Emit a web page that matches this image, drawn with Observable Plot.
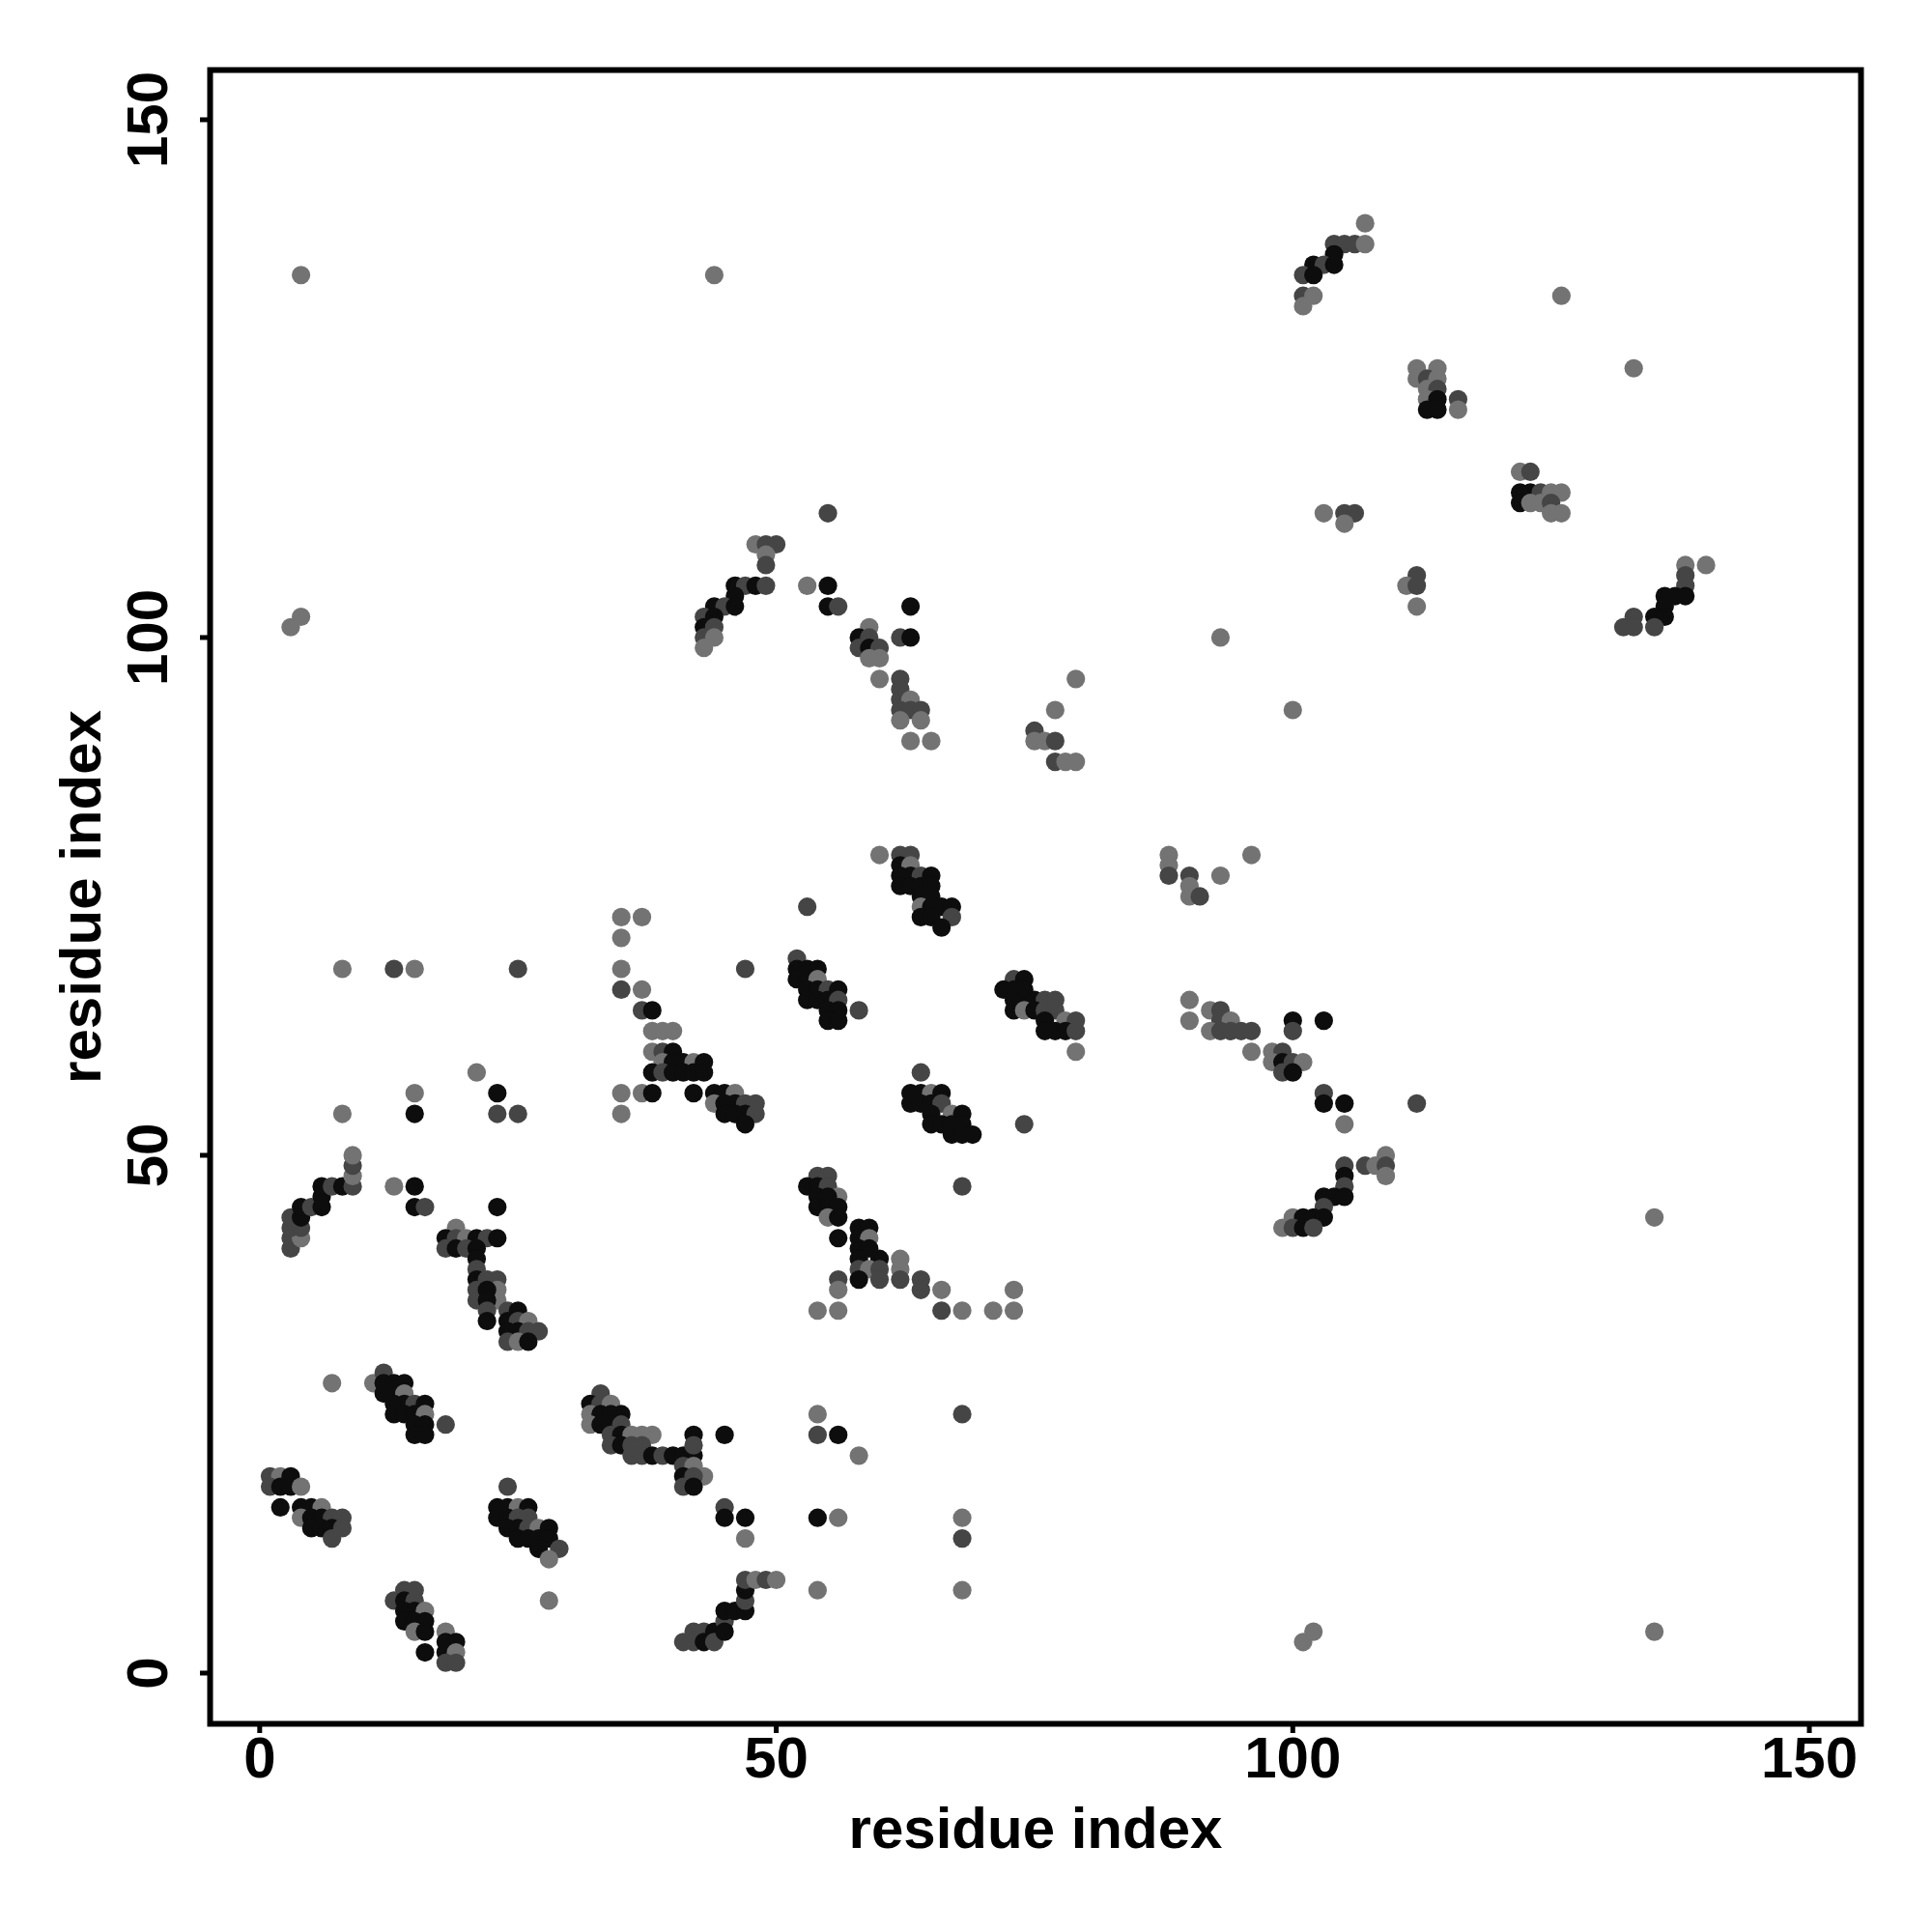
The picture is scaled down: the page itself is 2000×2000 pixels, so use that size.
<!DOCTYPE html>
<html>
<head>
<meta charset="utf-8">
<script src="https://cdn.jsdelivr.net/npm/d3@7"></script>
<script src="https://cdn.jsdelivr.net/npm/@observablehq/plot@0.6"></script>
<style>
  html, body { margin: 0; padding: 0; background: #fff; }
  #chart svg { display: block; }
</style>
</head>
<body>
<div id="chart"></div>
<script>
// Contacts: [residue i (x), residue j (y), shade level 1=black 2=dark grey 3=grey]
const clusterA = [ // x 1-8, y 13-19
  [1,19,2],[2,19,3],[3,19,1],[1,18,2],[2,18,1],[3,18,1],[4,18,3],[2,16,1],[4,16,1],[5,16,1],[6,16,3],
  [4,15,3],[5,15,1],[6,15,1],[7,15,2],[8,15,2],[5,14,1],[6,14,1],[7,14,1],[8,14,2],[7,13,2]
];
const clusterB = [ // x 11-18, y 23-29
  [7,28,3],[11,28,3],[12,29,2],[12,28,1],[13,28,1],[14,28,1],[12,27,1],[13,27,1],[14,27,3],[13,26,1],[14,26,1],
  [15,26,2],[16,26,1],[13,25,1],[14,25,1],[15,25,1],[16,25,3],[15,24,1],[16,24,1],[15,23,1],[16,23,1],[18,24,2]
];
const clusterC = [ // x 13-19, y 1-8
  [13,7,2],[14,8,2],[15,8,2],[14,7,1],[15,7,2],[14,6,1],[15,6,1],[16,6,3],[14,5,1],[15,5,1],[16,5,1],
  [15,4,3],[16,4,1],[16,2,1],[18,4,3],[18,3,1],[19,3,1],[18,2,1],[19,2,3],[18,1,2],[19,1,2]
];
const clusterD = [ // x 23-29, y 11-18
  [24,18,2],[23,16,1],[24,16,1],[25,16,3],[26,16,1],[23,15,1],[24,15,1],[25,15,2],[26,15,2],[24,14,1],[25,14,1],
  [26,14,2],[27,14,3],[28,14,1],[25,13,1],[26,13,1],[27,13,1],[28,13,1],[27,12,1],[29,12,2],[28,11,3],[28,7,3]
];
const clusterE = [ // x 32-45, y 18-27
  [33,27,2],[32,26,1],[33,26,2],[34,26,3],[32,25,3],[33,25,1],[34,25,1],[35,25,1],[32,24,3],[33,24,1],[34,24,1],
  [35,24,2],[34,23,2],[35,23,1],[36,23,3],[37,23,3],[38,23,3],[34,22,2],[35,22,1],[36,22,2],[37,22,2],[36,21,2],
  [37,21,2],[38,21,1],[39,21,2],[40,21,1],[41,21,1],[42,21,1],[42,23,1],[42,22,2],[45,23,1],[41,20,2],[42,20,3],
  [43,19,3],[41,19,1],[42,19,2],[41,18,2],[42,18,1]
];
const clusterF = [ // x 41-50, y 3-9
  [41,3,2],[42,4,2],[42,3,2],[43,4,2],[43,3,1],[44,4,1],[44,3,2],[45,5,2],[45,4,1],[45,6,1],[46,6,1],[47,6,1],
  [47,7,2],[47,8,1],[47,9,2],[48,9,3],[49,9,2],[50,9,3]
];
const scatterLow = [
  [45,16,2],[45,15,1],[47,15,1],[47,13,3],[54,25,3],[54,23,2],[56,23,1],[58,21,3],[54,15,1],[56,15,3],[54,8,3],
  [68,25,2],[68,15,3],[68,13,2],[68,8,3],[101,3,3],[102,4,3],[135,4,3],[135,44,3]
];
const clusterG = [ // x 3-9, y 41-50
  [3,41,2],[3,42,2],[4,42,3],[3,43,2],[4,43,2],[3,44,2],[4,44,1],[4,45,1],[5,45,2],[6,45,1],[6,46,1],[6,47,1],
  [7,47,2],[8,47,1],[9,47,2],[9,48,3],[9,49,2],[9,50,3]
];
const scatterMid = [
  [8,54,3],[15,56,3],[15,54,1],[21,58,3],[23,56,1],[23,54,2],[25,54,2],[13,47,3],[15,47,1],[15,45,1],[16,45,2],
  [23,45,1],[8,68,3],[13,68,2],[15,68,3],[25,68,2],[68,47,2],[74,53,2]
];
const clusterH = [ // x 18-29, y 32-43
  [19,43,3],[18,42,1],[19,42,2],[20,42,3],[21,42,1],[22,42,2],[23,42,1],[18,41,2],[19,41,1],[20,41,2],[21,41,1],
  [21,40,1],[21,39,2],[21,38,1],[21,37,2],[21,36,2],[22,38,2],[23,38,2],[23,37,3],[23,36,3],[22,37,1],[22,36,1],
  [22,35,2],[22,34,1],[24,35,2],[25,35,1],[24,34,1],[25,34,2],[26,34,3],[27,33,2],[24,33,1],[25,33,1],[26,33,2],
  [24,32,2],[25,32,3],[26,32,1]
];
const clusterI = [ // x 35-48, y 53-74
  [35,73,3],[37,73,3],[35,71,3],[35,68,3],[35,66,2],[37,66,3],[37,64,2],[38,64,1],[38,62,3],[39,62,3],[40,62,3],
  [38,60,3],[39,60,2],[40,60,1],[39,59,3],[40,59,1],[41,59,1],[42,59,3],[43,59,1],[38,58,1],[39,58,2],[40,58,1],
  [41,58,1],[42,58,1],[43,58,1],[35,56,3],[37,56,3],[38,56,1],[42,56,1],[44,56,1],[45,56,1],[46,56,3],[44,55,3],
  [45,55,1],[46,55,1],[47,55,2],[48,55,2],[45,54,1],[46,54,1],[47,54,1],[48,54,2],[47,53,1],[35,54,3],[47,68,2],[53,74,2]
];
const clusterJ = [ // x 52-58, y 63-69
  [52,69,2],[52,68,1],[53,68,1],[54,68,1],[52,67,1],[53,67,1],[54,67,3],[53,66,1],[54,66,1],[55,66,2],[56,66,1],
  [53,65,1],[54,65,1],[55,65,1],[56,65,2],[55,64,1],[56,64,1],[55,63,1],[56,63,1],[58,64,2]
];
const clusterK = [ // x 53-73, y 35-48
  [54,48,2],[55,48,2],[53,47,1],[54,47,1],[55,47,2],[56,46,3],[54,46,1],[55,46,1],[54,45,1],[55,45,1],[56,45,1],
  [55,44,3],[56,44,1],[56,42,1],[58,43,1],[59,43,1],[58,42,1],[59,42,3],[58,41,1],[59,41,1],[60,40,1],[58,40,1],
  [58,39,2],[59,39,3],[60,39,2],[58,38,1],[60,38,2],[56,38,2],[56,37,3],[54,35,3],[56,35,3],[62,40,3],[62,39,3],
  [62,38,2],[64,38,2],[64,37,2],[66,37,3],[66,35,2],[68,35,3],[71,35,3],[73,35,3],[73,37,3]
];
const clusterL = [ // x 60-67, y 72-79
  [60,79,3],[62,79,2],[63,79,2],[62,78,1],[63,78,3],[62,77,1],[63,77,1],[64,77,2],[65,77,1],[62,76,1],[63,76,1],
  [64,76,1],[65,76,1],[64,75,1],[65,75,1],[64,74,3],[65,74,1],[66,74,1],[67,74,1],[67,73,2],[64,73,1],[65,73,1],[66,72,1]
];
const clusterM = [ // x 72-79, y 60-67
  [73,67,2],[74,67,1],[72,66,1],[73,66,1],[74,66,1],[73,65,1],[74,65,1],[75,65,1],[76,65,2],[77,65,2],[73,64,1],
  [74,64,3],[75,64,1],[76,64,2],[77,64,2],[76,63,1],[78,63,3],[79,63,2],[76,62,1],[77,62,1],[78,62,1],[79,62,2],[79,60,3]
];
const clusterN = [ // x 63-69, y 52-58
  [64,58,2],[63,56,1],[64,56,1],[65,56,3],[66,56,1],[63,55,1],[64,55,1],[65,55,1],[66,55,2],[65,54,1],[67,54,3],
  [68,54,1],[65,53,1],[66,53,1],[67,53,1],[68,53,1],[67,52,1],[68,52,1],[69,52,1]
];
const clusterO = [ // x 43-79, y 88-112
  [55,112,2],[48,109,3],[49,109,2],[50,109,2],[49,108,3],[49,107,2],[46,105,1],[47,105,2],[48,105,1],[49,105,2],
  [53,105,3],[55,105,1],[46,104,1],[44,103,1],[45,103,2],[46,103,1],[55,103,1],[56,103,2],[63,103,1],[43,102,2],
  [44,102,1],[43,101,1],[44,101,2],[59,101,3],[43,100,2],[44,100,3],[58,100,1],[59,100,2],[62,100,2],[63,100,1],
  [43,99,3],[58,99,2],[59,99,1],[60,99,2],[59,98,3],[60,98,3],[60,96,3],[62,96,2],[62,95,2],[62,94,2],[63,94,3],
  [62,93,2],[63,93,2],[64,93,2],[77,93,3],[62,92,3],[64,92,3],[75,91,2],[63,90,3],[65,90,3],[75,90,3],[76,90,3],
  [77,90,2],[77,88,2],[78,88,3],[79,88,3],[79,96,3]
];
const clusterP = [ // x 88-112, y 43-79
  [88,79,3],[88,78,3],[88,77,2],[90,77,2],[90,76,3],[90,75,3],[91,75,2],[93,77,3],[96,79,3],[90,65,3],[92,64,3],
  [93,64,2],[90,63,3],[93,63,2],[94,63,3],[100,63,1],[103,63,1],[92,62,3],[93,62,2],[94,62,2],[95,62,2],[96,62,2],
  [100,62,2],[96,60,3],[98,60,3],[99,60,2],[98,59,3],[99,59,1],[100,59,2],[101,59,3],[99,58,2],[100,58,1],
  [103,56,2],[103,55,1],[105,55,1],[112,55,2],[105,53,3],[109,50,3],[105,49,2],[107,49,2],[108,49,3],[109,49,2],
  [105,48,1],[109,48,3],[105,47,2],[103,46,1],[104,46,1],[105,46,1],[103,45,2],[100,44,3],[101,44,1],[102,44,1],
  [103,44,1],[99,43,3],[100,43,2],[101,43,1],[102,43,2]
];
const clusterQ = [ // x 101-140, y 101-140
  [107,140,3],[104,138,2],[105,138,2],[106,138,2],[107,138,3],[104,137,1],[102,136,1],[103,136,2],[104,136,1],
  [101,135,2],[102,135,1],[101,133,2],[102,133,3],[101,132,3],[126,133,3],[133,126,3],
  [112,126,3],[114,126,3],[112,125,3],[113,125,2],[114,125,3],[113,124,3],[114,124,2],[113,123,3],[114,123,1],
  [116,123,2],[113,122,1],[114,122,1],[116,122,3],
  [122,116,3],[123,116,2],[122,114,1],[123,114,1],[124,114,2],[125,114,3],[126,114,3],[122,113,1],[123,113,3],
  [124,113,3],[125,113,2],[125,112,3],[126,112,3],
  [103,112,3],[105,112,2],[106,112,2],[105,111,3],[112,106,2],[111,105,3],[112,105,2],[112,103,3],
  [138,107,3],[140,107,3],[138,106,2],[138,105,2],[136,104,1],[137,104,1],[138,104,1],[136,103,1],[133,102,2],
  [135,102,1],[136,102,1],[132,101,2],[133,101,2],[135,101,2]
];
const scatterHigh = [
  [4,135,3],[44,135,3],[3,101,3],[4,102,3],[93,100,3],[100,93,3]
];

const xTicks = [0, 50, 100, 150];
const yTicks = [0, 50, 100, 150];
const shadeLevels = [1, 2, 3];
const shadeColors = ["#0d0d0d", "#454545", "#737373"];
const axisTitle = "residue index";

const contacts = [
  ...clusterA, ...clusterB, ...clusterC, ...clusterD, ...clusterE, ...clusterF, ...scatterLow,
  ...clusterG, ...scatterMid, ...clusterH, ...clusterI, ...clusterJ, ...clusterK, ...clusterL,
  ...clusterM, ...clusterN, ...clusterO, ...clusterP, ...clusterQ, ...scatterHigh
].map(([i, j, s]) => ({i, j, s}));

const font = "'Liberation Sans', Arial, Helvetica, sans-serif";

const chart = Plot.plot({
  width: 2000,
  height: 2000,
  marginLeft: 217,
  marginRight: 74,
  marginTop: 72,
  marginBottom: 216,
  style: {fontFamily: font, background: "#fff", color: "#000"},
  x: {domain: [-4.8, 155]},
  y: {domain: [-4.9, 154.8]},
  color: {type: "ordinal", domain: shadeLevels, range: shadeColors},
  marks: [
    Plot.dot(contacts, {x: "i", y: "j", r: 9.6, fill: "s", stroke: null}),
    Plot.frame({stroke: "#000", strokeWidth: 6}),
    Plot.axisX(xTicks, {tickSize: 10, tickPadding: 3, fontSize: 60, fontWeight: "bold", strokeWidth: 5, label: null}),
    Plot.axisY(yTicks, {tickSize: 10, tickFormat: () => "", strokeWidth: 5, label: null}),
    Plot.text(yTicks, {y: d => d, text: d => String(d), frameAnchor: "left", dx: -45, rotate: -90,
      textAnchor: "middle", lineAnchor: "bottom", fontSize: 60, fontWeight: "bold", fill: "#000"}),
    Plot.text([axisTitle], {text: d => d, frameAnchor: "bottom", dy: 128, textAnchor: "middle",
      lineAnchor: "bottom", fontSize: 60, fontWeight: "bold", fill: "#000"}),
    Plot.text([axisTitle], {text: d => d, frameAnchor: "left", dx: -114, rotate: -90, textAnchor: "middle",
      lineAnchor: "bottom", fontSize: 60, fontWeight: "bold", fill: "#000"})
  ]
});
document.getElementById("chart").appendChild(chart);
</script>
</body>
</html>
